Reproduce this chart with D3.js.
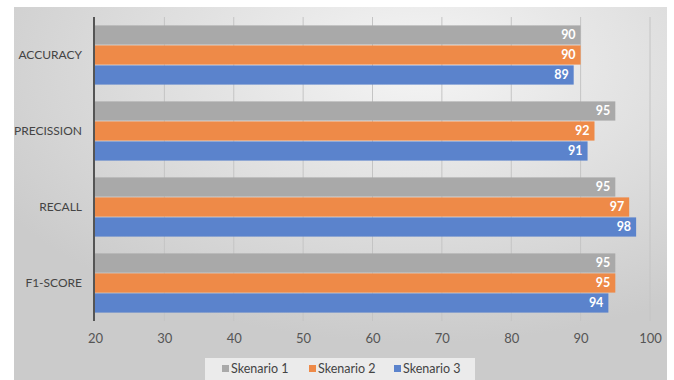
<!DOCTYPE html>
<html><head><meta charset="utf-8">
<script src="https://cdn.jsdelivr.net/npm/d3@7"></script>
<style>body{margin:0;background:#fff}svg{display:block}</style>
</head><body>
<script>
const categories = ["ACCURACY","PRECISSION","RECALL","F1-SCORE"];
const seriesNames = ["Skenario 1","Skenario 2","Skenario 3"];
const skenario1 = [90,95,95,95];
const skenario2 = [90,92,97,95];
const skenario3 = [89,91,98,94];
const xTicks = [20,30,40,50,60,70,80,90,100];
const colors = ["#a9a9a9","#ee8a48","#5b83cc"];

const W=674,H=380;
const svg=d3.select("body").append("svg").attr("width",W).attr("height",H);
const defs=svg.append("defs");
const rg=defs.append("radialGradient").attr("id","bg").attr("cx","62%").attr("cy","15%").attr("r","75%");
rg.append("stop").attr("offset","0%").attr("stop-color","#f5f5f5");
rg.append("stop").attr("offset","100%").attr("stop-color","#cbcbcb");
svg.append("rect").attr("x",14).attr("y",7).attr("width",653).attr("height",373).attr("fill","url(#bg)");

const x=d3.scaleLinear().domain([20,100]).range([95,650]);
const y=d3.scaleBand().domain(categories).range([17,321]).paddingInner(0.2).paddingOuter(0.1);
const y1=d3.scaleBand().domain(seriesNames).range([0,y.bandwidth()]).padding(0.04);
const font="Lato, 'Open Sans', sans-serif";

// grid
svg.append("g").selectAll("line").data(xTicks.slice(1)).join("line")
  .attr("x1",d=>x(d)).attr("x2",d=>x(d)).attr("y1",17).attr("y2",321)
  .attr("stroke","#c4c4c4").attr("stroke-width",1);

const data=[skenario1,skenario2,skenario3];
const g=svg.append("g");
categories.forEach((c,i)=>{
  seriesNames.forEach((s,j)=>{
    const v=data[j][i];
    g.append("rect").attr("x",x(20)).attr("y",y(c)+y1(s)).attr("width",x(v)-x(20)).attr("height",y1.bandwidth()).attr("fill",colors[j]);
    g.append("text").attr("x",x(v)-5).attr("y",y(c)+y1(s)+y1.bandwidth()/2).attr("dy","0.35em")
      .attr("text-anchor","end").attr("fill","#fff").attr("font-weight","bold").attr("font-size",12.5).attr("font-family",font).text(v);
  });
});

// y axis line
svg.append("line").attr("x1",94).attr("x2",94).attr("y1",17).attr("y2",321).attr("stroke","#555").attr("stroke-width",2);
// category labels
svg.append("g").selectAll("text").data(categories).join("text")
  .attr("x",82).attr("y",d=>y(d)+y.bandwidth()/2).attr("dy","0.35em").attr("text-anchor","end")
  .attr("fill","#444").attr("font-size",12).attr("font-family",font).text(d=>d);
// x tick labels
const ax=svg.append("g").attr("transform","translate(0,330)").call(d3.axisBottom(x).tickValues(xTicks).tickSize(0).tickPadding(4));
ax.select(".domain").remove();
ax.selectAll("text").attr("fill","#555").attr("font-size",13).attr("font-family",font);

// legend
svg.append("rect").attr("x",205).attr("y",358).attr("width",270).attr("height",22).attr("fill","#ebebeb");
const lx=[222,309,394];
seriesNames.forEach((s,j)=>{
  svg.append("rect").attr("x",lx[j]).attr("y",365).attr("width",7).attr("height",7).attr("fill",colors[j]);
  svg.append("text").attr("x",lx[j]+9).attr("y",369).attr("dy","0.35em").attr("fill","#444").attr("font-size",12.5).attr("font-family",font).text(s);
});
</script>
</body></html>
